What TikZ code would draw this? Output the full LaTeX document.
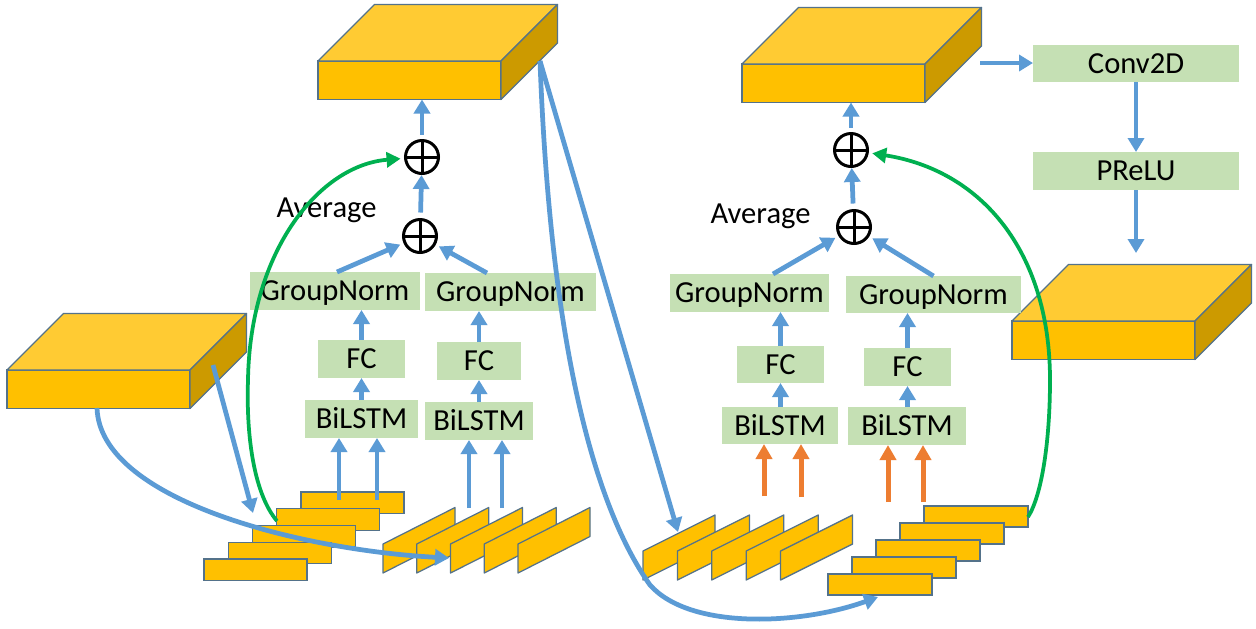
\documentclass[tikz,border=0pt]{standalone}
\usepackage{fontspec}
\setmainfont{Carlito}
\usetikzlibrary{arrows.meta,calc}
\definecolor{gold}{RGB}{255,192,0}
\definecolor{goldtop}{RGB}{255,203,51}
\definecolor{goldside}{RGB}{204,154,0}
\definecolor{edgec}{RGB}{84,114,138}
\definecolor{boxgreen}{RGB}{197,224,180}
\definecolor{ablue}{RGB}{91,155,213}
\definecolor{agreen}{RGB}{0,176,80}
\definecolor{aorange}{RGB}{237,125,49}
\tikzset{
  front/.style={draw=edgec, line width=0.25mm, fill=gold, anchor=north west, minimum width=183*0.2mm, minimum height=38.5*0.2mm, inner sep=0pt, outer sep=0pt},
  topface/.style={draw=edgec, line width=0.25mm, fill=goldtop, line join=round},
  sideface/.style={draw=edgec, line width=0.25mm, fill=goldside, line join=round},
  slab/.style={draw=edgec, line width=0.25mm, fill=gold, anchor=north west, inner sep=0pt, outer sep=0pt, minimum width=103*0.2mm, minimum height=21.5*0.2mm},
  slabp/.style={draw=edgec, line width=0.25mm, fill=gold, line join=round},
  gb/.style 2 args={fill=boxgreen, anchor=north west, inner sep=0pt, outer sep=0pt, minimum width=#1*0.2mm, minimum height=#2*0.2mm, text height=13.9pt, text depth=2.7pt},
  oplus/.style={circle, draw=black, line width=0.6mm, minimum size=33*0.2mm, inner sep=0pt, outer sep=0pt,
    path picture={\draw[line width=0.6mm] (path picture bounding box.north) -- (path picture bounding box.south) (path picture bounding box.west) -- (path picture bounding box.east);}},
  ba/.style={draw=ablue, line width=0.95mm, -{Triangle[length=2.8mm,width=3.2mm]}},
  ga/.style={draw=agreen, line width=0.75mm, -{Triangle[length=2.8mm,width=3mm]}},
  oa/.style={draw=aorange, line width=1mm, -{Triangle[length=3mm,width=3.2mm]}},
}
\newcommand\slabblock[3]{%
  \node[front] (#1) at (#2,#3) {};
  \draw[topface] (#1.north west) -- ++(56.5,-56.5) -- ++(183,0) -- (#1.north east) -- cycle;
  \draw[sideface] (#1.north east) -- ++(56.5,-56.5) -- ++(0,38.5) -- (#1.south east) -- cycle;
}
\begin{document}
\begin{tikzpicture}[x=0.2mm,y=-0.2mm,font=\fontsize{17.4}{20}\selectfont]
\fill[white] (0,0) rectangle (1256,628);
\useasboundingbox (0,0) rectangle (1256,628);

% 3D blocks
\slabblock{B1}{318}{61}
\slabblock{B2}{742}{64}
\slabblock{B3}{7}{370}
\slabblock{B4}{1012}{321}

% left stack
\foreach \i in {1,...,5} {
  \node[slab] (ls\i) at ({301-24.25*(\i-1)},{492+16.75*(\i-1)}) {};
}
% right stack
\foreach \i in {1,...,5} {
  \node[slab, minimum width=104*0.2mm, minimum height=21*0.2mm] (rs\i) at ({924-24*(\i-1)},{506+17*(\i-1)}) {};
}
% left parallelograms
\foreach \i in {0,...,4} {
  \draw[slabp] ({383+33.75*\i},573) -- ++(0,-29) -- ++(72,-36.5) -- ++(0,29) -- cycle;
}
% right parallelograms
\foreach \i in {0,...,4} {
  \draw[slabp] ({643+34.4*\i},580) -- ++(0,-29) -- ++(72,-36) -- ++(0,29) -- cycle;
}

% green boxes
\node[gb={170}{38}] (gn1) at (250,272) {GroupNorm};
\node[gb={171}{38}] (gn2) at (425,273) {GroupNorm};
\node[gb={87}{38}] (fc1) at (318,340) {FC};
\node[gb={84}{38}] (fc2) at (437,342) {FC};
\node[gb={113}{38}] (bi1) at (305,400) {BiLSTM};
\node[gb={108}{38}] (bi2) at (425,402) {BiLSTM};
\node[gb={159}{38}] (gn3) at (670,274) {GroupNorm};
\node[gb={175}{37}] (gn4) at (846,276) {GroupNorm};
\node[gb={87}{37}] (fc3) at (737,346) {FC};
\node[gb={87}{38}] (fc4) at (864,348) {FC};
\node[gb={116}{37}] (bi3) at (722,407) {BiLSTM};
\node[gb={118}{38}] (bi4) at (848,407) {BiLSTM};
\node[gb={206}{37}] (conv) at (1033,45) {Conv2D};
\node[gb={206}{38}] (prelu) at (1033,152) {PReLU};

% oplus nodes
\node[oplus] (pl1) at (420,236) {};
\node[oplus] (pt1) at (422,157) {};
\node[oplus] (pl2) at (854,227) {};
\node[oplus] (pt2) at (851,150) {};

% labels
\node[anchor=base, inner sep=0pt] (avg1) at (326.5,217) {Average};
\node[anchor=base, inner sep=0pt] (avg2) at (760.5,223) {Average};

% coordinates
\coordinate (in1) at (339,500);
\coordinate (in2) at (377,500);
\coordinate (in3) at (469,508);
\coordinate (in4) at (502,508);
\coordinate (or1) at (764,496);
\coordinate (or2) at (801,497);
\coordinate (or3) at (888,502);
\coordinate (or4) at (923,502);
\coordinate (b1c) at (540,61);
\coordinate (rp1) at (678,532);
\coordinate (rs5b) at (878,597);
\coordinate (b3r) at (213,365);
\coordinate (ls3t) at (253,513);
\coordinate (b3b) at (97,408);
\coordinate (lp3) at (449,558);
\coordinate (b2r) at (980,63);
\coordinate (b4t) at (1136,253);
\coordinate (ls2w) at (277,521);
\coordinate (rs1e) at (1028,517);

% left column arrows
\draw[ba] (in1) -- (in1 |- bi1.south);
\draw[ba] (in2) -- (in2 |- bi1.south);
\draw[ba] (in3) -- (in3 |- bi2.south);
\draw[ba] (in4) -- (in4 |- bi2.south);
\draw[ba] (fc1.south |- bi1.north) -- (fc1.south);
\draw[ba] (fc1.north) -- (fc1.north |- gn1.south);
\draw[ba] (fc2.south |- bi2.north) -- (fc2.south);
\draw[ba] (fc2.north) -- (fc2.north |- gn2.south);
\draw[ba, shorten >=1mm] ([xshift=0.4mm]gn1.north) -- (pl1);
\draw[ba, shorten >=1mm] ([xshift=-4.7mm]gn2.north) -- (pl1);
\draw[ba, shorten <=1.4mm, shorten >=0.3mm] (pl1) -- (pt1);
\draw[ba, shorten <=1.2mm] (pt1.north) -- (pt1.north |- B1.south);

% right column arrows
\draw[oa] (or1) -- (or1 |- bi3.south);
\draw[oa] (or2) -- (or2 |- bi3.south);
\draw[oa] (or3) -- (or3 |- bi4.south);
\draw[oa] (or4) -- (or4 |- bi4.south);
\draw[ba] (fc3.south |- bi3.north) -- (fc3.south);
\draw[ba] (fc3.north) -- (fc3.north |- gn3.south);
\draw[ba] (fc4.south |- bi4.north) -- (fc4.south);
\draw[ba] (fc4.north) -- (fc4.north |- gn4.south);
\draw[ba, shorten >=1mm] ([xshift=4.7mm]gn3.north) -- (pl2);
\draw[ba, shorten >=1mm] (gn4.north) -- (pl2);
\draw[ba, shorten <=1.4mm, shorten >=0.3mm] (pl2) -- (pt2);
\draw[ba, shorten <=1.2mm] (pt2.north) -- (pt2.north |- B2.south);

% conv branch
\draw[ba] (b2r) -- (b2r -| conv.west);
\draw[ba] (conv.south) -- (prelu.north);
\draw[ba] (prelu.south) -- (b4t);

% long blue connectors
\draw[ba] (b3r) -- (ls3t);
\draw[ba] (b3b) .. controls (100,500) and (300,550) .. (lp3);
\draw[ba] (b1c) -- (rp1);
\draw[ba] (b1c) .. controls (550,330) and (590,500) .. (650,585) .. controls (690,630) and (800,625) .. (rs5b);

% green residual connectors
\draw[ga, shorten >=1mm] (ls2w) .. controls (255,495) and (246,440) .. (248,380) .. controls (250,250) and (320,165) .. (pt1);
\draw[ga, shorten >=1mm] (rs1e) .. controls (1042,495) and (1050,440) .. (1050,380) .. controls (1050,250) and (980,170) .. (pt2);
\end{tikzpicture}
\end{document}
